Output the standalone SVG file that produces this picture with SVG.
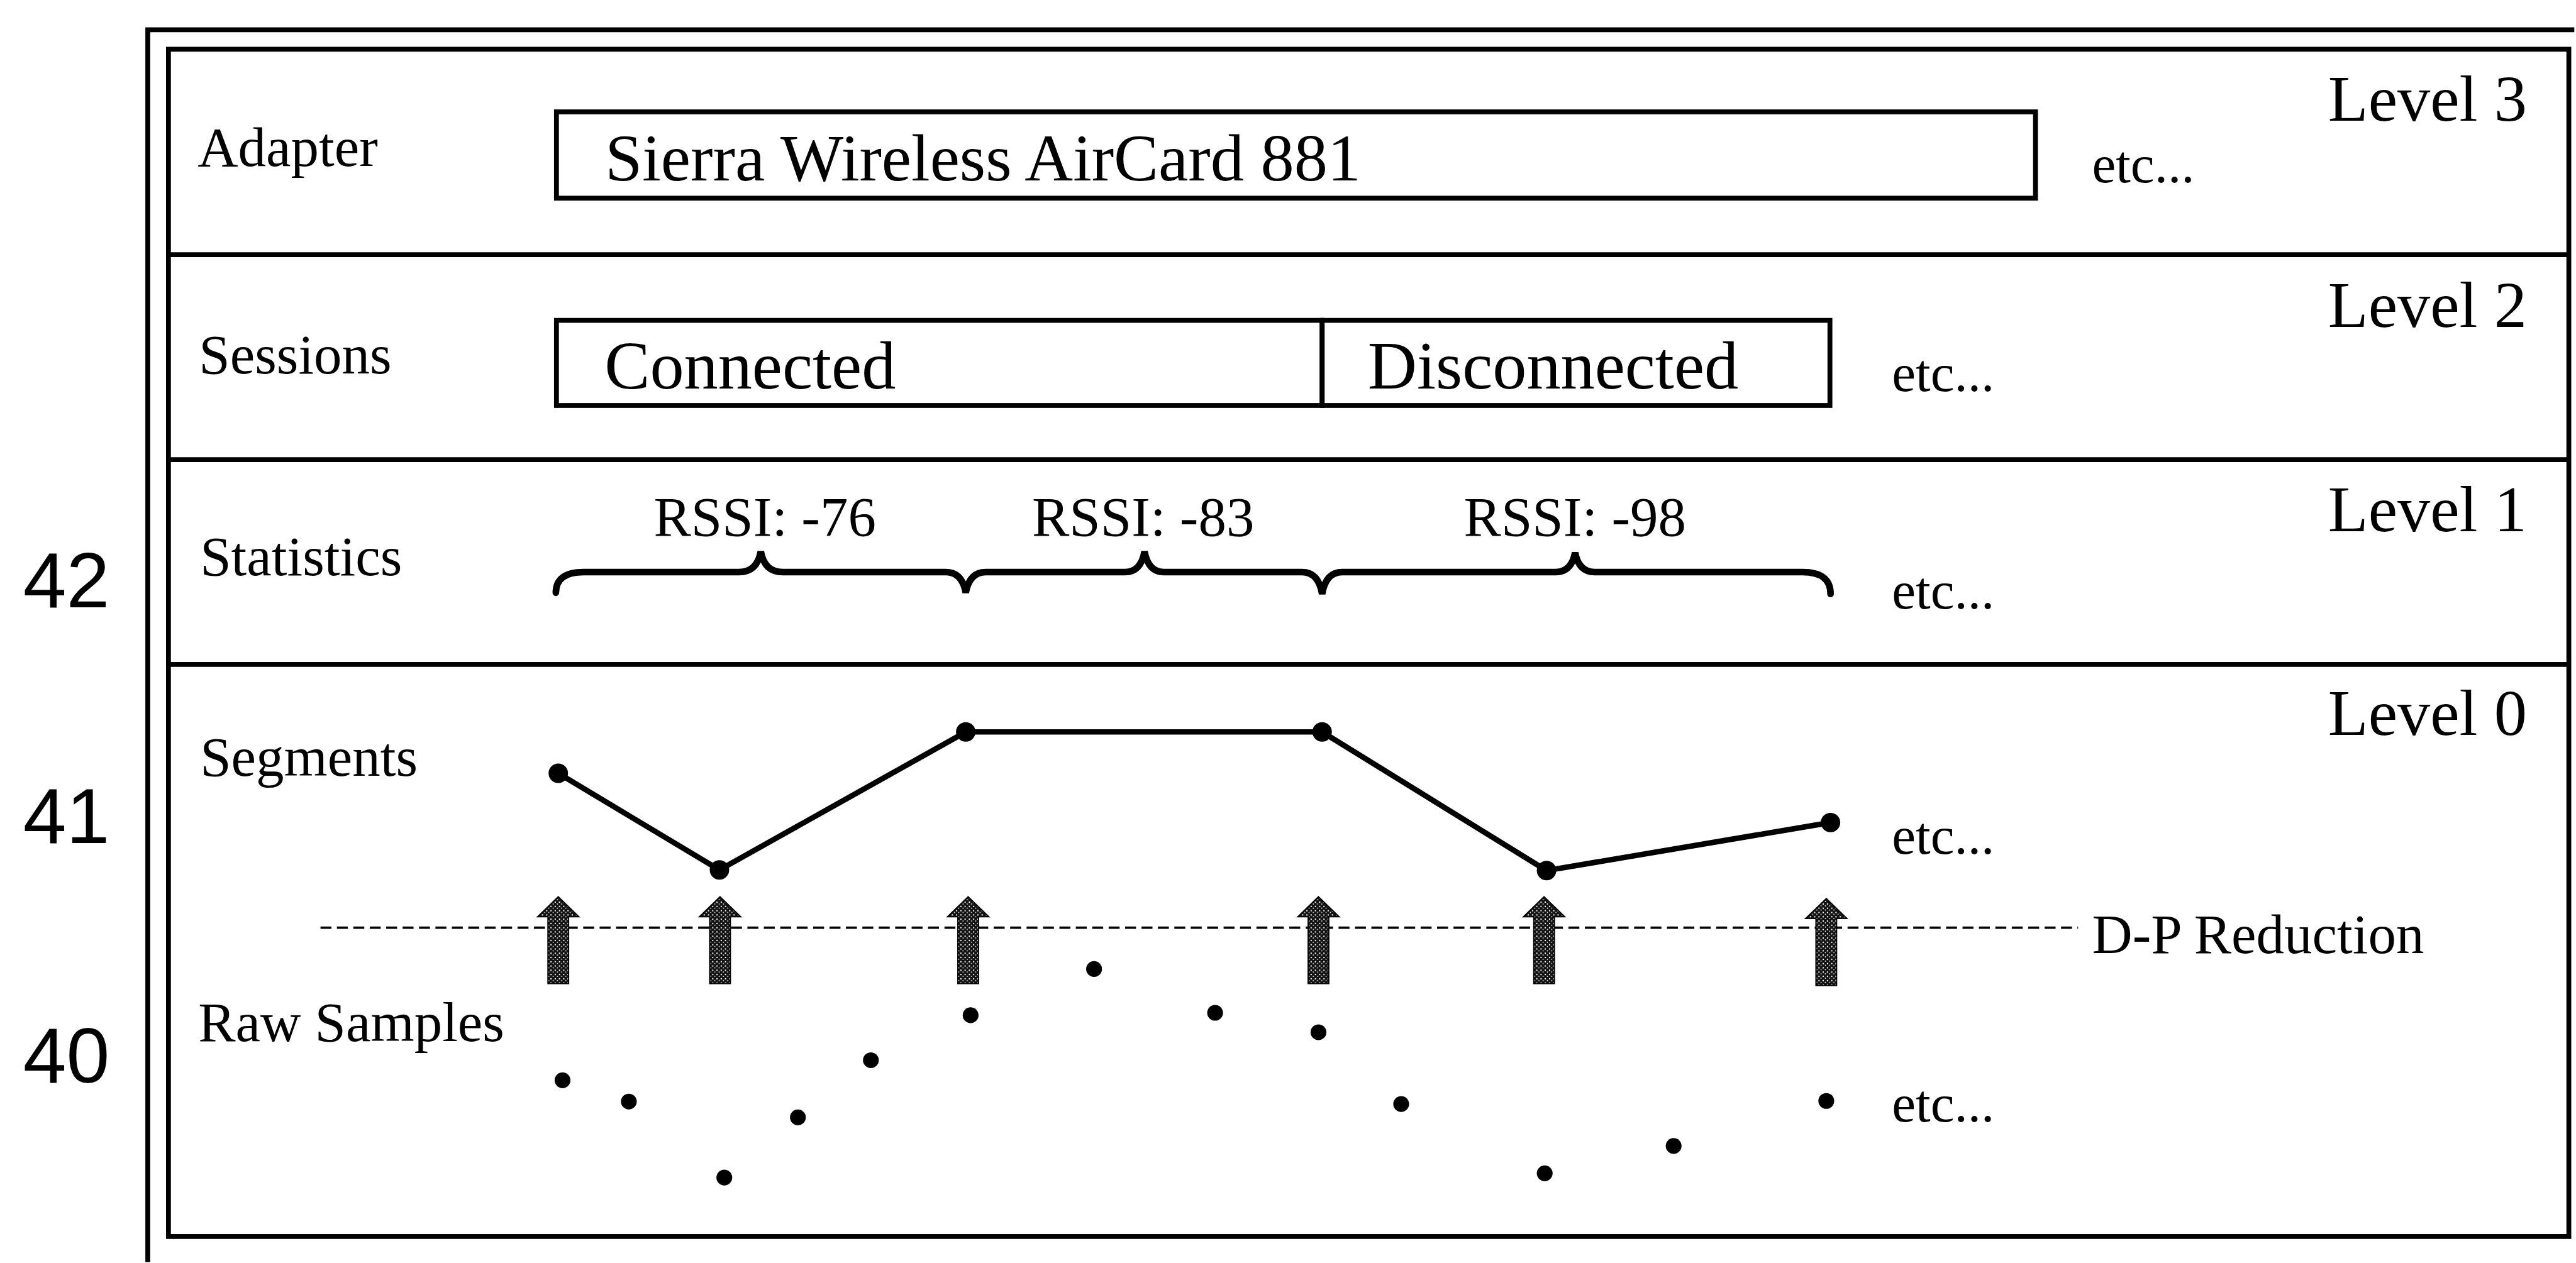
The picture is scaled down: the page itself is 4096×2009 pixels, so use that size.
<svg xmlns="http://www.w3.org/2000/svg" width="4096" height="2009" viewBox="0 0 4096 2009">
<defs>
<style>
.ln{fill:none;stroke:#000;stroke-width:8}
.t{font-family:"Liberation Serif","Times New Roman",serif;fill:#000}
.lab{font-size:92px}
.lvl{font-size:108px;text-anchor:end}
.etc{font-size:88px}
.num{font-family:"Liberation Sans",Arial,sans-serif;font-size:128px;fill:#000}
.dot{fill:#000}
.arr{fill:url(#stip);stroke:#000;stroke-width:2}
</style>
<pattern id="stip" width="7" height="7" patternUnits="userSpaceOnUse">
<rect width="7" height="7" fill="#111"/>
<circle cx="2" cy="2" r="1.2" fill="#fff"/>
<circle cx="5.5" cy="5" r="0.9" fill="#fff"/>
</pattern>
<path id="uparrow" d="M0,0 L34,33 L17,33 L17,143 L-17,143 L-17,33 L-34,33 Z"/>
</defs>
<rect width="4096" height="2009" fill="#fff"/>
<g transform="scale(0.967)">
<g id="frame">
<path class="ln" d="M243,2076 L243,49 L4233,49"/>
<rect class="ln" x="277" y="81" width="3947" height="1953"/>
<line class="ln" x1="277" y1="419" x2="4224" y2="419"/>
<line class="ln" x1="277" y1="756" x2="4224" y2="756"/>
<line class="ln" x1="277" y1="1093" x2="4224" y2="1093"/>
</g>
<g id="refnums">
<text class="num" x="38" y="999">42</text>
<text class="num" x="38" y="1387">41</text>
<text class="num" x="38" y="1781">40</text>
</g>
<g id="level3">
<text class="t lab" x="325" y="273">Adapter</text>
<text class="t lvl" x="4155" y="199">Level 3</text>
<g id="adapter-box">
<rect class="ln" x="915" y="184" width="2432" height="142"/>
<text class="t" font-size="110" x="995" y="297">Sierra Wireless AirCard 881</text>
</g>
<text class="t etc" x="3440" y="300">etc...</text>
</g>
<g id="level2">
<text class="t lab" x="327" y="614">Sessions</text>
<text class="t lvl" x="4155" y="538">Level 2</text>
<g id="session-connected">
<rect class="ln" x="915" y="527" width="1259" height="140"/>
<text class="t" font-size="112" x="994" y="639">Connected</text>
</g>
<g id="session-disconnected">
<rect class="ln" x="2174" y="527" width="835" height="140"/>
<text class="t" font-size="112" x="2249" y="639">Disconnected</text>
</g>
<text class="t etc" x="3111" y="643">etc...</text>
</g>
<g id="level1">
<text class="t lab" x="329" y="946">Statistics</text>
<text class="t lvl" x="4155" y="874">Level 1</text>
<text class="t lab" x="1075" y="881">RSSI: -76</text>
<text class="t lab" x="1697" y="881">RSSI: -83</text>
<text class="t lab" x="2407" y="881">RSSI: -98</text>
<path fill="none" stroke="#000" stroke-width="11" stroke-linecap="round" d="M914,975 Q914,941 960,941 L1215,941 Q1245,941 1251,907 Q1257,941 1287,941 L1555,941 Q1582,941 1588,975 Q1594,941 1621,941 L1850,941 Q1876,941 1882,907 Q1888,941 1914,941 L2141,941 Q2168,941 2174,977 Q2180,941 2207,941 L2558,941 Q2584,941 2590,909 Q2596,941 2622,941 L2964,941 Q3010,941 3010,977"/>
<text class="t etc" x="3111" y="1001">etc...</text>
</g>
<g id="level0">
<text class="t lab" x="329" y="1276">Segments</text>
<text class="t lvl" x="4155" y="1209">Level 0</text>
<text class="t lab" x="326" y="1713">Raw Samples</text>
<text class="t lab" x="3440" y="1568">D-P Reduction</text>
<text class="t etc" x="3111" y="1404">etc...</text>
<text class="t etc" x="3111" y="1845">etc...</text>
</g>
<g id="connectors">
<polyline fill="none" stroke="#000" stroke-width="9" stroke-linejoin="round" points="918,1272 1183,1431 1588,1204 2174,1204 2543,1432 3010,1353"/>
<g class="dot">
<circle cx="918" cy="1272" r="16"/>
<circle cx="1183" cy="1431" r="16"/>
<circle cx="1588" cy="1204" r="16"/>
<circle cx="2174" cy="1204" r="16"/>
<circle cx="2543" cy="1432" r="16"/>
<circle cx="3010" cy="1353" r="16"/>
</g>
<line x1="527" y1="1526" x2="3417" y2="1526" stroke="#000" stroke-width="4" stroke-dasharray="18 9"/>
<g class="arr">
<use href="#uparrow" x="918" y="1475"/>
<use href="#uparrow" x="1184" y="1475"/>
<use href="#uparrow" x="1592" y="1475"/>
<use href="#uparrow" x="2168" y="1475"/>
<use href="#uparrow" x="2539" y="1475"/>
<use href="#uparrow" x="3003" y="1478"/>
</g>
</g>
<g id="raw-samples" class="dot">
<circle cx="925" cy="1777" r="13"/>
<circle cx="1034" cy="1812" r="13"/>
<circle cx="1191" cy="1937" r="13"/>
<circle cx="1312" cy="1838" r="13"/>
<circle cx="1432" cy="1744" r="13"/>
<circle cx="1596" cy="1670" r="13"/>
<circle cx="1799" cy="1594" r="13"/>
<circle cx="1998" cy="1666" r="13"/>
<circle cx="2168" cy="1698" r="13"/>
<circle cx="2304" cy="1816" r="13"/>
<circle cx="2540" cy="1930" r="13"/>
<circle cx="2752" cy="1885" r="13"/>
<circle cx="3003" cy="1811" r="13"/>
</g>
</g>
</svg>
